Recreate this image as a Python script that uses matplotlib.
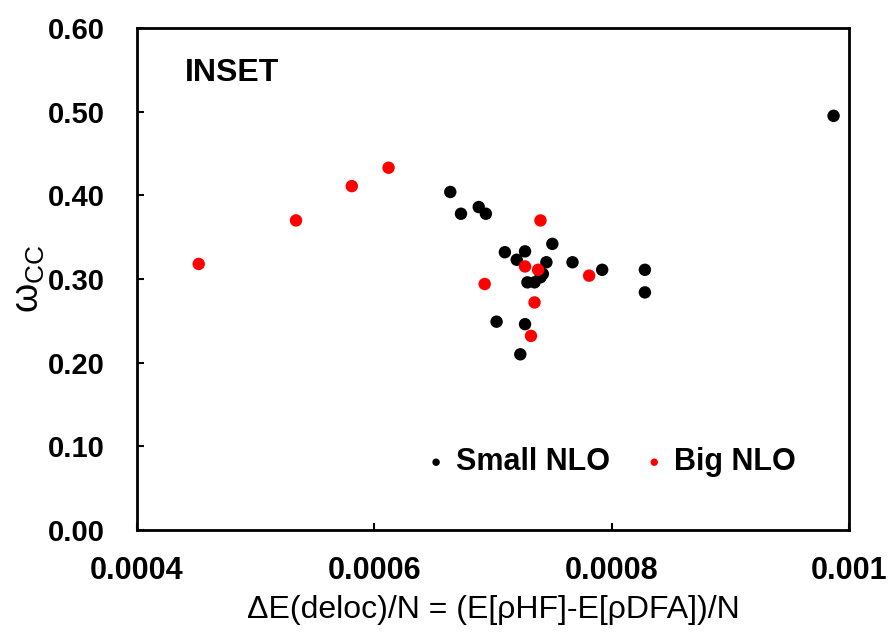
import numpy as np
import matplotlib
matplotlib.use("Agg")
import matplotlib.pyplot as plt

plt.rcParams['font.family'] = ['Liberation Sans', 'DejaVu Sans']
plt.rcParams['mathtext.fontset'] = 'custom'
plt.rcParams['mathtext.rm'] = 'Liberation Sans'

# Small NLO (black)
small_x = [0.000664, 0.000673, 0.000688, 0.000694, 0.000710, 0.000727, 0.000720,
           0.000750, 0.000745, 0.000767, 0.000792, 0.000729, 0.000735, 0.000740,
           0.000742, 0.000703, 0.000727, 0.000723, 0.000828, 0.000828, 0.000987]
small_y = [0.404, 0.378, 0.386, 0.378, 0.332, 0.333, 0.323,
           0.342, 0.320, 0.320, 0.311, 0.296, 0.296, 0.302,
           0.306, 0.249, 0.246, 0.210, 0.311, 0.284, 0.495]

# Big NLO (red)
big_x = [0.000452, 0.000534, 0.000581, 0.000612, 0.000740, 0.000727, 0.000738,
         0.000693, 0.000781, 0.000735, 0.000732]
big_y = [0.318, 0.370, 0.411, 0.433, 0.370, 0.315, 0.311,
         0.294, 0.304, 0.272, 0.232]

xticks = [0.0004, 0.0006, 0.0008, 0.001]
xtick_labels = ['0.0004', '0.0006', '0.0008', '0.001']
yticks = [0.0, 0.1, 0.2, 0.3, 0.4, 0.5, 0.6]

fig = plt.figure(figsize=(8.92, 6.34), dpi=100)
ax = fig.add_axes([137/892, 1 - 530/634, (849-137)/892, (530-28)/634])

ax.scatter(small_x, small_y, s=80, color='black', edgecolors='none', label='Small NLO', zorder=3)
ax.scatter(big_x, big_y, s=80, color='red', edgecolors='none', label='Big NLO', zorder=3)

ax.set_xlim(0.0004, 0.001)
ax.set_ylim(0, 0.6)
ax.set_xticks(xticks)
ax.set_xticklabels(xtick_labels)
ax.set_yticks(yticks)
ax.set_yticklabels([f'{v:.2f}' for v in yticks])

for s in ax.spines.values():
    s.set_linewidth(2)
ax.tick_params(direction='in', length=5, width=1.5)
ax.tick_params(axis='x', labelsize=22, pad=19)
ax.tick_params(axis='y', labelsize=21, pad=23)
for lab in ax.get_xticklabels() + ax.get_yticklabels():
    lab.set_fontweight('bold')

ax.set_xlabel('ΔE(deloc)/N = (E[ρHF]-E[ρDFA])/N', fontsize=23, labelpad=6)
ax.set_ylabel(r'$\mathregular{ω_{CC}}$', fontsize=27, labelpad=1)

ax.text(0.067, 0.91, 'INSET', transform=ax.transAxes, fontsize=23,
        fontweight='bold', va='center', ha='left')

ax.legend(loc='center', bbox_to_anchor=(0.662, 0.135), ncol=2, frameon=False,
          markerscale=0.6, handlelength=1.0, handletextpad=0.15, columnspacing=0.95,
          prop={'weight': 'bold', 'size': 22})

fig.savefig('out.png', dpi=100)
